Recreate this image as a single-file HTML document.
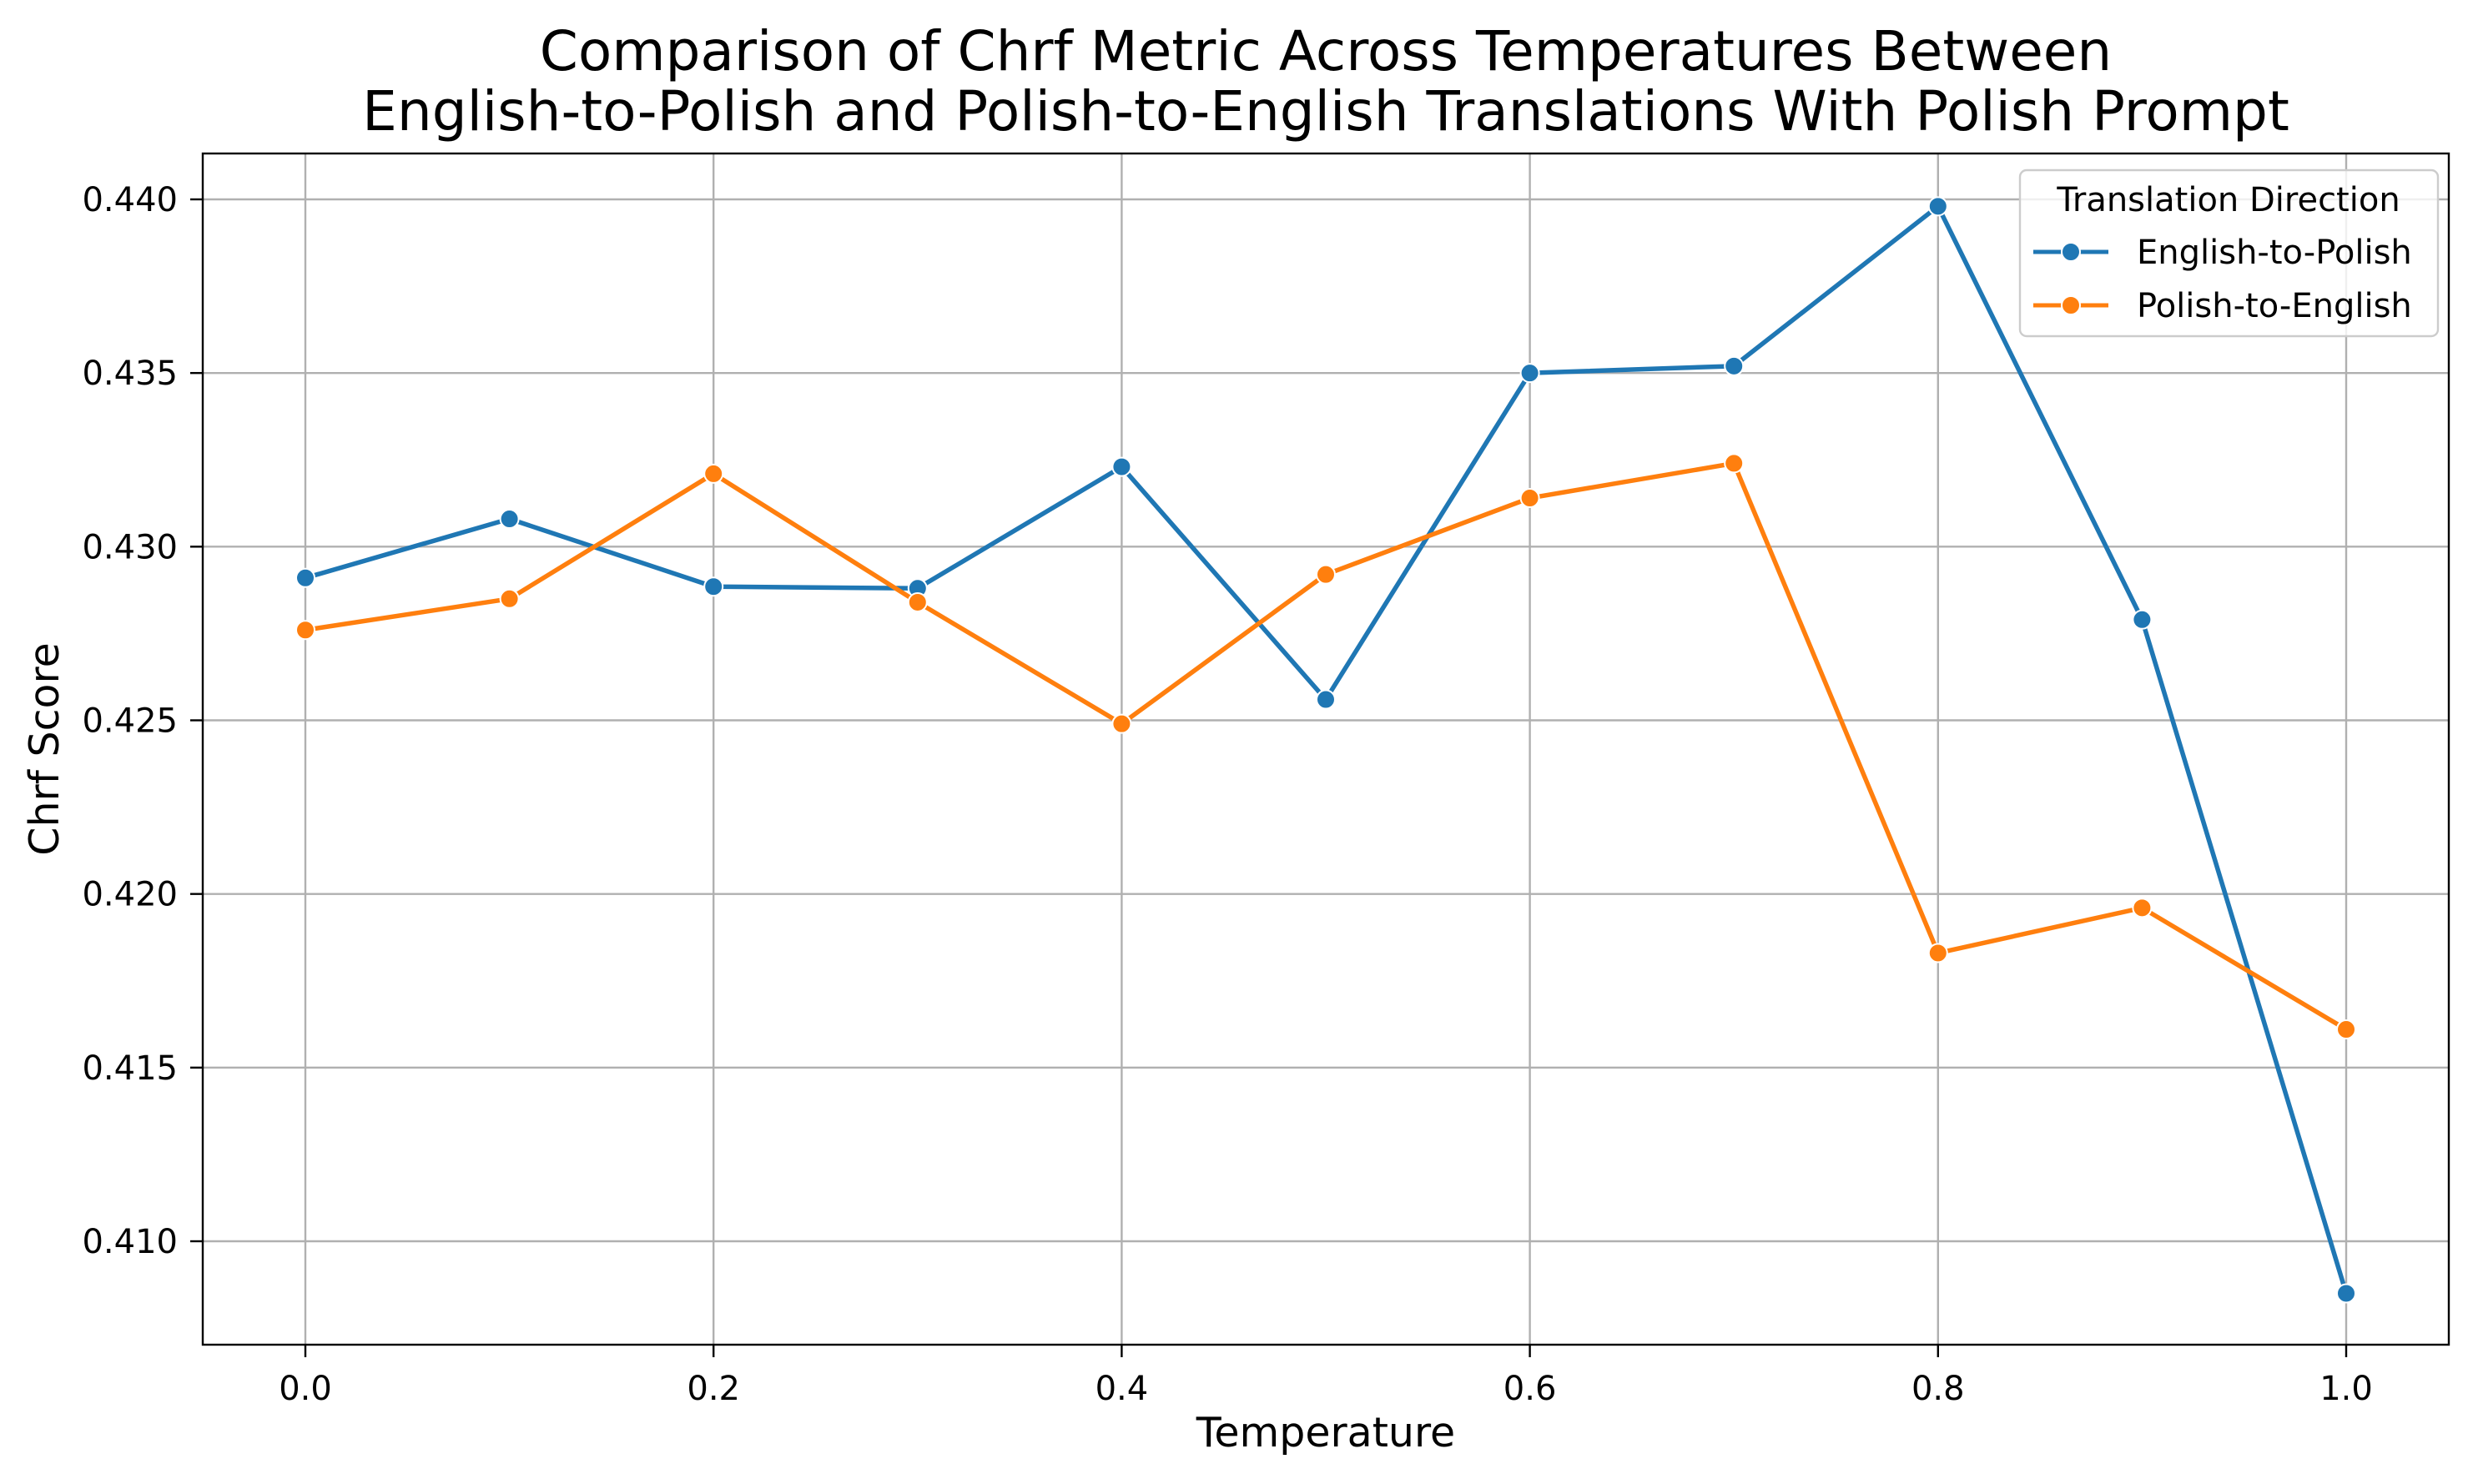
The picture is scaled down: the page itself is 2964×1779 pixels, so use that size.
<!DOCTYPE html>
<html><head><meta charset="utf-8"><style>
html,body{margin:0;padding:0;background:#fff;}
svg text{font-family:"DejaVu Sans","Liberation Sans",sans-serif;fill:#000;}
</style></head><body>
<svg id="chart" width="2964" height="1774" viewBox="0 0 2964 1774" xmlns="http://www.w3.org/2000/svg">
<rect width="2964" height="1774" fill="#fff"/>
<text x="1589" y="84" font-size="66" text-anchor="middle">Comparison of Chrf Metric Across Temperatures Between</text>
<text x="1589" y="156" font-size="66" text-anchor="middle">English-to-Polish and Polish-to-English Translations With Polish Prompt</text>
<g id="grid"></g>
<g id="ticks"></g>
<g id="series"></g>
<rect x="243" y="184" width="2692" height="1428" fill="none" stroke="#000" stroke-width="2.4"/>
<text x="1589" y="1734" font-size="49" text-anchor="middle">Temperature</text>
<text transform="translate(70,898) rotate(-90)" font-size="49" text-anchor="middle">Chrf Score</text>
<g>
<rect x="2421" y="204" width="501" height="199" rx="8" fill="#fff" fill-opacity="0.8" stroke="#ccc" stroke-width="2.4"/>
<text x="2671" y="253" font-size="40" text-anchor="middle">Translation Direction</text>
<g>
<line x1="2437" y1="302" x2="2527" y2="302" stroke="#1f77b4" stroke-width="5"/>
<circle cx="2482" cy="302" r="11" fill="#1f77b4" stroke="#fff" stroke-width="2"/>
<text x="2561" y="316" font-size="40">English-to-Polish</text></g>
<g>
<line x1="2437" y1="366" x2="2527" y2="366" stroke="#ff7f0e" stroke-width="5"/>
<circle cx="2482" cy="366" r="11" fill="#ff7f0e" stroke="#fff" stroke-width="2"/>
<text x="2561" y="380" font-size="40">Polish-to-English</text></g>
</g>
</svg>
<script>
const temperatures = [0.0,0.1,0.2,0.3,0.4,0.5,0.6,0.7,0.8,0.9,1.0];
const englishToPolish = [0.4291,0.4308,0.42885,0.4288,0.4323,0.4256,0.4350,0.4352,0.4398,0.4279,0.4085];
const polishToEnglish = [0.4276,0.4285,0.4321,0.4284,0.4249,0.4292,0.4314,0.4324,0.4183,0.4196,0.4161];
const xTicks = [0.0,0.2,0.4,0.6,0.8,1.0];
const xTickLabels = ["0.0","0.2","0.4","0.6","0.8","1.0"];
const yTicks = [0.410,0.415,0.420,0.425,0.430,0.435,0.440];
const yTickLabels = ["0.410","0.415","0.420","0.425","0.430","0.435","0.440"];

const NS="http://www.w3.org/2000/svg";
const L=243,R=2935,T=184,B=1612;
function xs(v){return 366+(v-0)*(2812-366)/1.0;}
function ys(v){return 1488-(v-0.410)*(1488-239)/0.030;}
function mk(tag,attrs,parent){const e=document.createElementNS(NS,tag);for(const k in attrs)e.setAttribute(k,attrs[k]);parent.appendChild(e);return e;}
const grid=document.getElementById('grid'),ticks=document.getElementById('ticks'),series=document.getElementById('series');
xTicks.forEach((v,i)=>{
  const x=xs(v);
  const g=mk('line',{x1:x,y1:T,x2:x,y2:B,stroke:'#b0b0b0','stroke-width':2.4},grid);
  
  
  const t=mk('line',{x1:x,y1:B,x2:x,y2:B+15,stroke:'#000','stroke-width':2.4},ticks);
  
  
  const tx=mk('text',{x:x,y:B+66,'font-size':40,'text-anchor':'middle'},ticks);
  tx.textContent=xTickLabels[i];
  
  
});
yTicks.forEach((v,i)=>{
  const y=ys(v);
  const g=mk('line',{x1:L,y1:y,x2:R,y2:y,stroke:'#b0b0b0','stroke-width':2.4},grid);
  
  
  const t=mk('line',{x1:L-15,y1:y,x2:L,y2:y,stroke:'#000','stroke-width':2.4},ticks);
  
  
  const tx=mk('text',{x:L-30,y:y+14,'font-size':40,'text-anchor':'end'},ticks);
  tx.textContent=yTickLabels[i];
  
  
});
function drawSeries(vals,color,name){
  const pts=vals.map((v,i)=>xs(temperatures[i])+','+ys(v)).join(' ');
  const pl=mk('polyline',{points:pts,fill:'none',stroke:color,'stroke-width':5.5,'stroke-linejoin':'round'},series);
  
  
  vals.forEach((v,i)=>{
    const c=mk('circle',{cx:xs(temperatures[i]),cy:ys(v),r:11,fill:color,stroke:'#fff','stroke-width':2},series);
    
    
  });
}
drawSeries(englishToPolish,'#1f77b4','english-to-polish');
drawSeries(polishToEnglish,'#ff7f0e','polish-to-english');
</script>
</body></html>
